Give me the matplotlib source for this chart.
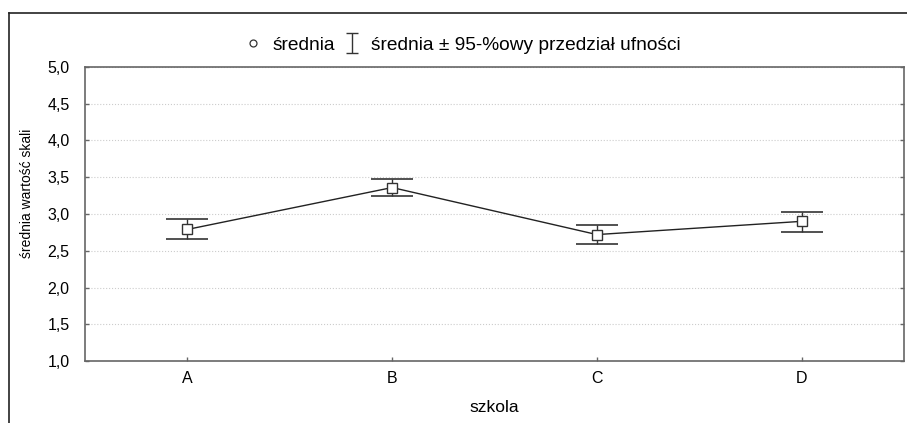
import matplotlib
matplotlib.use("Agg")
import matplotlib.pyplot as plt
from matplotlib.lines import Line2D
import numpy as np

plt.rcParams['font.family'] = ['Liberation Sans', 'DejaVu Sans']

categories = ['A', 'B', 'C', 'D']
means = [2.79, 3.36, 2.72, 2.90]
upper = [2.93, 3.47, 2.85, 3.03]
lower = [2.66, 3.24, 2.59, 2.76]
yticks = [1.0, 1.5, 2.0, 2.5, 3.0, 3.5, 4.0, 4.5, 5.0]
ytick_labels = ['1,0', '1,5', '2,0', '2,5', '3,0', '3,5', '4,0', '4,5', '5,0']

fig = plt.figure(figsize=(9.07, 4.23), dpi=100)
ax = fig.add_axes([85/907, 1 - 361/423, (904-85)/907, (361-67)/423])

x = np.arange(len(categories))
m = np.array(means)
yerr = np.vstack([m - np.array(lower), np.array(upper) - m])

ax.plot(x, m, color='#222222', lw=1.0, zorder=2)
ax.errorbar(x, m, yerr=yerr, fmt='none', ecolor='#333333', elinewidth=1.0,
            capsize=15, capthick=1.2, zorder=3)
ax.plot(x, m, ls='none', marker='s', ms=7, mfc='white', mec='#333333', mew=1.0, zorder=4)

ax.set_xlim(-0.5, 3.5)
ax.set_ylim(1.0, 5.0)
ax.set_xticks(x)
ax.set_xticklabels(categories, fontsize=11.5)
ax.set_yticks(yticks)
ax.set_yticklabels(ytick_labels, fontsize=11.5)
ax.tick_params(axis='both', direction='in', length=3, color='#666666', width=1.0)
ax.tick_params(axis='y', right=True, pad=11)
ax.tick_params(axis='x', pad=7)
ax.yaxis.grid(True, ls=':', color='#cccccc', lw=0.8)
ax.set_axisbelow(True)
for s in ax.spines.values():
    s.set_color('#666666')
    s.set_linewidth(1.2)

ax.set_xlabel('szkola', fontsize=12.5, labelpad=10)
ax.set_ylabel('średnia wartość skali', fontsize=10)
ax.yaxis.set_label_coords(-0.062, 0.57)

# legend
h_mean = Line2D([], [], ls='none', marker='o', ms=5, mfc='white', mec='#333333', mew=0.9)
eb = ax.errorbar([np.nan], [np.nan], yerr=[[0.1], [0.1]], fmt='none', ecolor='#333333',
                 elinewidth=1.0, capsize=4, capthick=1.0)
fig.legend([h_mean, eb], ['średnia', 'średnia ± 95-%owy przedział ufności'],
           loc='center', bbox_to_anchor=(462/907, 1 - 45/423), ncol=2, frameon=False,
           fontsize=13.8, handlelength=1.0, handletextpad=0.5, columnspacing=0.4)

# outer frame lines
fig.add_artist(Line2D([9/907, 9/907], [0, 1 - 13/423], color='#222222', lw=1.2,
                      transform=fig.transFigure))
fig.add_artist(Line2D([9/907, 1], [1 - 13/423, 1 - 13/423], color='#222222', lw=1.2,
                      transform=fig.transFigure))

fig.savefig('out.png', dpi=100)
